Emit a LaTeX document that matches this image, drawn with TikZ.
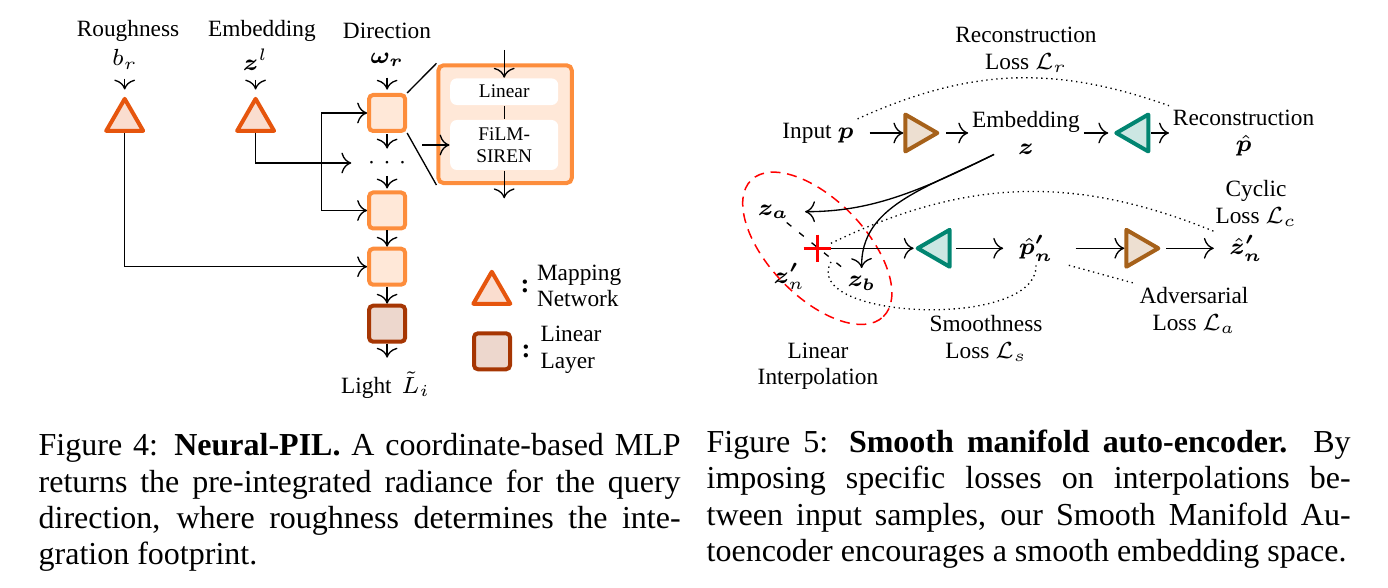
\documentclass[tikz,border=0pt]{standalone}
\usepackage{fontspec}
\setmainfont{Liberation Serif}
\usepackage{amsmath,bm}
\usetikzlibrary{arrows.meta,shapes.geometric,positioning}

\definecolor{mapcol}{HTML}{E6550D}
\definecolor{filmcol}{HTML}{FD8D3C}
\definecolor{lincol}{HTML}{A63603}
\definecolor{enccol}{HTML}{A6611A}
\definecolor{deccol}{HTML}{018571}

\tikzset{
  lbl/.style={font=\fontsize{7}{8}\selectfont, align=center, inner sep=1pt},
  arr/.style={-{To[scale=1.2]}, line width=0.4pt},
  loss/.style={line width=0.4pt, dash pattern=on 0.4pt off 1.1pt},
  tri/.style={regular polygon, regular polygon sides=3, line width=1.2pt, line join=round, minimum size=12.8pt, inner sep=0},
  mapnet/.style={tri, draw=mapcol, fill=mapcol!20},
  enc/.style={tri, draw=enccol, fill=enccol!20, shape border rotate=-90},
  dec/.style={tri, draw=deccol, fill=deccol!20, shape border rotate=90},
  lyr/.style={draw=filmcol, fill=filmcol!20, line width=1.2pt, rounded corners=1.2pt, minimum size=10.8pt, inner sep=0},
  linlyr/.style={lyr, draw=lincol, fill=lincol!20},
  filmbig/.style={draw=filmcol, fill=filmcol!20, line width=1.2pt, rounded corners=1.5pt, minimum width=40pt, minimum height=35.3pt, inner sep=0},
  blk/.style={fill=white, rounded corners=2pt, minimum width=32.4pt, minimum height=8pt, inner sep=0, font=\fontsize{5.8}{6.5}\selectfont, align=center},
  colon/.style={font=\fontsize{8}{8}\selectfont\bfseries, inner sep=0},
  interp/.style={ellipse, draw=red, line width=0.45pt, dash pattern=on 3pt off 2pt, minimum width=57pt, minimum height=29pt, rotate=-46, inner sep=0},
  capt/.style={align=justify, inner sep=0, font=\fontsize{9.6}{10.9}\selectfont}
}

\begin{document}
\begin{tikzpicture}[x=0.3pt, y=-0.3pt]
\useasboundingbox (0,0) rectangle (1388,588);

% Neural-PIL
\node[lbl] (rough) at (128,30.7) {Roughness};
\node[lbl] (br) at (124.7,59.3) {$b_r$};
\node[lbl] (embl) at (262,30.7) {Embedding};
\node[lbl] (zl) at (255.6,59.3) {$\bm{z}^l$};
\node[lbl] (dirl) at (387,30.7) {Direction};
\node[lbl] (om) at (387.1,60) {$\bm{\omega_r}$};

\node[mapnet] (trir) at (124.7,120.2) {};
\node[mapnet] (triz) at (255.6,120.2) {};

\node[lyr] (lyr1) at (387.1,113) {};
\node[lbl] (dots) at (387.1,163) {${\cdot}\;{\cdot}\;{\cdot}$};
\node[lyr] (lyr2) at (387.1,210.5) {};
\node[lyr] (lyr3) at (387.1,266.7) {};
\node[linlyr] (lyr4) at (387.1,323.7) {};
\node[lbl] (light) at (385.7,385) {Light\ \,$\tilde{L}_i$};

\draw[arr, shorten <=1.7pt, shorten >=1.6pt] (br) -- (trir);
\draw[arr, shorten <=1.7pt, shorten >=1.6pt] (zl) -- (triz);
\draw[arr, shorten <=2pt, shorten >=1pt] (om) -- (lyr1);
\draw[arr] (trir.south) |- (lyr3);
\draw[arr, shorten >=3.7pt] (triz.south) |- (dots);
\coordinate (junc) at (321.7,161.7);
\draw[arr] (junc) |- (lyr1);
\draw[arr] (junc) |- (lyr2);

\draw[arr, shorten <=0.4pt, shorten >=1.5pt] (lyr1) -- (dots);
\draw[arr, shorten <=1pt, shorten >=0.6pt] (dots) -- (lyr2);
\draw[arr] (lyr2) -- (lyr3);
\draw[arr] (lyr3) -- (lyr4);
\draw[arr, shorten >=3pt] (lyr4) -- (lyr4 |- light.north);

\node[filmbig] (film) at (505.1,124.2) {};
\node[blk] (linblk) at (504.2,91.7) {Linear};
\node[blk, minimum height=15pt] (siren) at (504.2,145) {FiLM-\\SIREN};
\draw (lyr1.north east) -- (film.north west);
\draw (lyr1.south east) -- (film.south west);
\coordinate (filmtop) at (504.2,50);
\coordinate (filmbot) at (504.2,198.3);
\coordinate (filmin) at (422.3,145);
\draw[arr] (filmtop) -- (linblk);
\draw (linblk) -- (siren);
\draw[arr] (siren) -- (filmbot);
\draw[arr] (filmin) -- (siren);

\node[mapnet] (legmap) at (491.8,293.1) {};
\node[colon] (col1) at (525,286) {:};
\node[lbl, anchor=west, align=left] (legmaptxt) at (533,285.8) {Mapping\\Network};
\node[linlyr] (leglin) at (492,351.3) {};
\node[colon] (col2) at (526,351) {:};
\node[lbl, anchor=west, align=left] (leglintxt) at (536.5,349.7) {Linear\\Layer};

% auto-encoder
\node[lbl] (recloss) at (1026,49.7) {Reconstruction\\Loss $\mathcal{L}_r$};
\node[lbl] (input) at (818,133) {Input $\bm{p}$};
\node[enc] (enc1) at (916,133) {};
\node[lbl] (emb) at (1026,133) {Embedding\\$\bm{z}$};
\node[dec] (dec1) at (1137.6,133) {};
\node[lbl] (recon) at (1243.6,133) {Reconstruction\\$\hat{\bm{p}}$};

\draw[arr, shorten <=3.6pt] (input) -- (enc1);
\draw[arr, shorten <=1.5pt] (enc1) -- (emb);
\draw[arr, shorten >=1.2pt] (emb) -- (dec1);
\draw[arr, shorten <=0.3pt] (dec1) -- (recon);
\draw[loss] (input.north east) to[bend left=22] (recon.north west);

\node[lbl] (za) at (773.3,211.7) {$\bm{z_a}$};
\node[lbl] (zb) at (861.7,283.3) {$\bm{z_b}$};
\node[lbl] (znl) at (789.3,276.7) {$\bm{z'}_n$};
\node[minimum size=7.8pt, inner sep=0] (zn) at (817.3,248.3) {};
\node[interp] (ell) at (zn) {};
\draw[dash pattern=on 1.8pt off 3pt] (za) -- (zb);
\draw[red, line width=1pt] (zn.west) -- (zn.east) (zn.north) -- (zn.south);

\node[dec] (dec2) at (939,248.3) {};
\node[lbl, inner xsep=4.5pt] (pn) at (1036,248.3) {$\bm{\hat{p}'_n}$};
\node[enc] (enc2) at (1137,248.3) {};
\node[lbl, inner xsep=4.5pt] (zh) at (1246,248.3) {$\bm{\hat{z}'_n}$};

\node[lbl] (cycloss) at (1256,203.7) {Cyclic\\Loss $\mathcal{L}_c$};
\node[lbl] (smloss) at (986,338.3) {Smoothness\\Loss $\mathcal{L}_s$};
\node[lbl] (advloss) at (1194,310.7) {Adversarial\\Loss $\mathcal{L}_a$};
\node[lbl] (interpl) at (818,366.3) {Linear\\Interpolation};

\draw[arr] (zn) -- (dec2);
\draw[arr, shorten <=1.3pt] (dec2) -- (pn);
\draw[arr, shorten <=2pt] (pn) -- (enc2);
\draw[arr, shorten <=1.2pt] (enc2) -- (zh);
\draw[loss] (zn.20) to[bend left=24] (zh.north west);
\draw[loss] (pn.south east) -- (advloss.north west);
\draw[loss] (pn.south) .. controls (1038,330) and (800,320) .. (zn.-45);

\draw[arr, shorten >=3.7pt] ([xshift=-9.6pt,yshift=1.2pt]emb.south) .. controls (914.5,194) and (868,211.7) .. (za.east);
\draw[arr, shorten >=1.3pt] ([xshift=-9.6pt,yshift=1.2pt]emb.south) .. controls (923.4,189.3) and (860.7,206.7) .. (zb.north);

% captions
\node[capt, text width=192.6pt, anchor=base west] (cap4) at (38,455.7) {Figure 4: \textbf{Neural-PIL.} A coordinate-based MLP\linebreak returns the pre-integrated radiance for the query\linebreak direction, where roughness determines the inte-\linebreak gration footprint.};
\node[capt, text width=193.2pt, anchor=base west] (cap5) at (706,452.5) {Figure 5: \textbf{Smooth manifold auto-encoder.} By\linebreak imposing specific losses on interpolations be-\linebreak tween input samples, our Smooth Manifold Au-\linebreak toencoder encourages a smooth embedding space.};
\end{tikzpicture}
\end{document}
